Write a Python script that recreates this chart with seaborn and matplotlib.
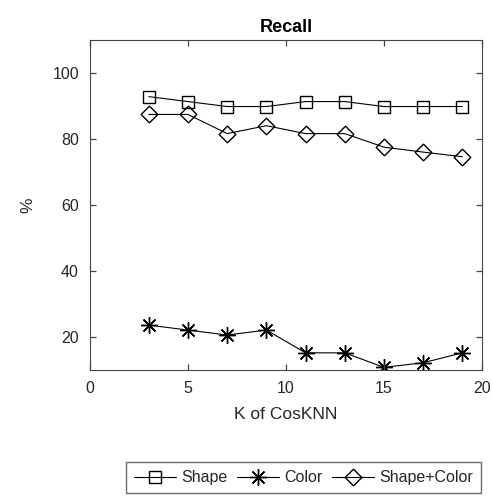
import matplotlib
matplotlib.use('Agg')
import matplotlib.pyplot as plt
import matplotlib.transforms as mtransforms
import seaborn as sns
import pandas as pd

# K values and recall (%) per feature set
k_values = [3, 5, 7, 9, 11, 13, 15, 17, 19]
shape = [92.8, 91.3, 89.8, 89.8, 91.3, 91.3, 89.8, 89.8, 89.8]
color = [23.6, 22.1, 20.6, 22.1, 15.2, 15.2, 10.8, 12.2, 15.2]
shape_color = [87.4, 87.4, 81.6, 84.0, 81.6, 81.6, 77.5, 76.0, 74.6]
series_names = ['Shape', 'Color', 'Shape+Color']

df = pd.DataFrame({
    'K': k_values * 3,
    'Recall': shape + color + shape_color,
    'Series': [n for n in series_names for _ in k_values],
})

sns.set_style('ticks', {'axes.edgecolor': '#444444',
                        'xtick.color': '#444444', 'ytick.color': '#444444'})
plt.rcParams['font.family'] = ['Liberation Sans', 'DejaVu Sans']
plt.rcParams['axes.linewidth'] = 0.8

fig = plt.figure(figsize=(4.93, 4.98), dpi=100)
ax = fig.add_axes([0.1826, 0.257, 0.795, 0.663])

# matlab-like markers: open square, 8-arm asterisk, open diamond
markers = {'Shape': 's', 'Color': (8, 2, 0), 'Shape+Color': (4, 0, 0)}
sizes = {'Shape': 8, 'Color': 12, 'Shape+Color': 12}
for name in series_names:
    sub = df[df['Series'] == name]
    sns.lineplot(data=sub, x='K', y='Recall', ax=ax, color='black', lw=0.8,
                 marker=markers[name], markersize=sizes[name],
                 markerfacecolor='none' if name != 'Color' else 'black',
                 markeredgecolor='black', markeredgewidth=1.0, label=name)

ax.set_xlim(0, 20)
ax.set_ylim(10, 110)
ax.set_xticks([0, 5, 10, 15, 20])
ax.set_yticks([20, 40, 60, 80, 100])

ax.set_title('Recall', fontsize=13, fontweight='bold', color='black', pad=6)
ax.set_xlabel('K of CosKNN', fontsize=12.5, color='#262626', labelpad=8)
ax.set_ylabel('%', fontsize=12.5, color='#262626', labelpad=12)

ax.legend(loc='upper center', bbox_to_anchor=(0.545, -0.28), ncol=3,
          frameon=True, fancybox=False, edgecolor='#444444', fontsize=11.5,
          handlelength=2.6, handletextpad=0.35, columnspacing=0.6,
          borderpad=0.5, borderaxespad=0)

ax.tick_params(direction='in', length=0, labelsize=11.5,
               labelcolor='#262626', pad=8)

# inward tick marks on all four sides, placed at the axis tick positions
xt = [t for t in ax.get_xticks() if 0 <= t <= 20]
yt = [t for t in ax.get_yticks() if 10 <= t <= 110]
tx = mtransforms.blended_transform_factory(ax.transData, ax.transAxes)
ty = mtransforms.blended_transform_factory(ax.transAxes, ax.transData)
tick_kw = dict(ls='none', color='#444444', markersize=4.5,
               markeredgewidth=0.9, clip_on=False, zorder=3)
ax.plot(xt, [0] * len(xt), marker=2, transform=tx, **tick_kw)
ax.plot(xt, [1] * len(xt), marker=3, transform=tx, **tick_kw)
ax.plot([0] * len(yt), yt, marker=1, transform=ty, **tick_kw)
ax.plot([1] * len(yt), yt, marker=0, transform=ty, **tick_kw)

fig.savefig('out.png', dpi=100)
